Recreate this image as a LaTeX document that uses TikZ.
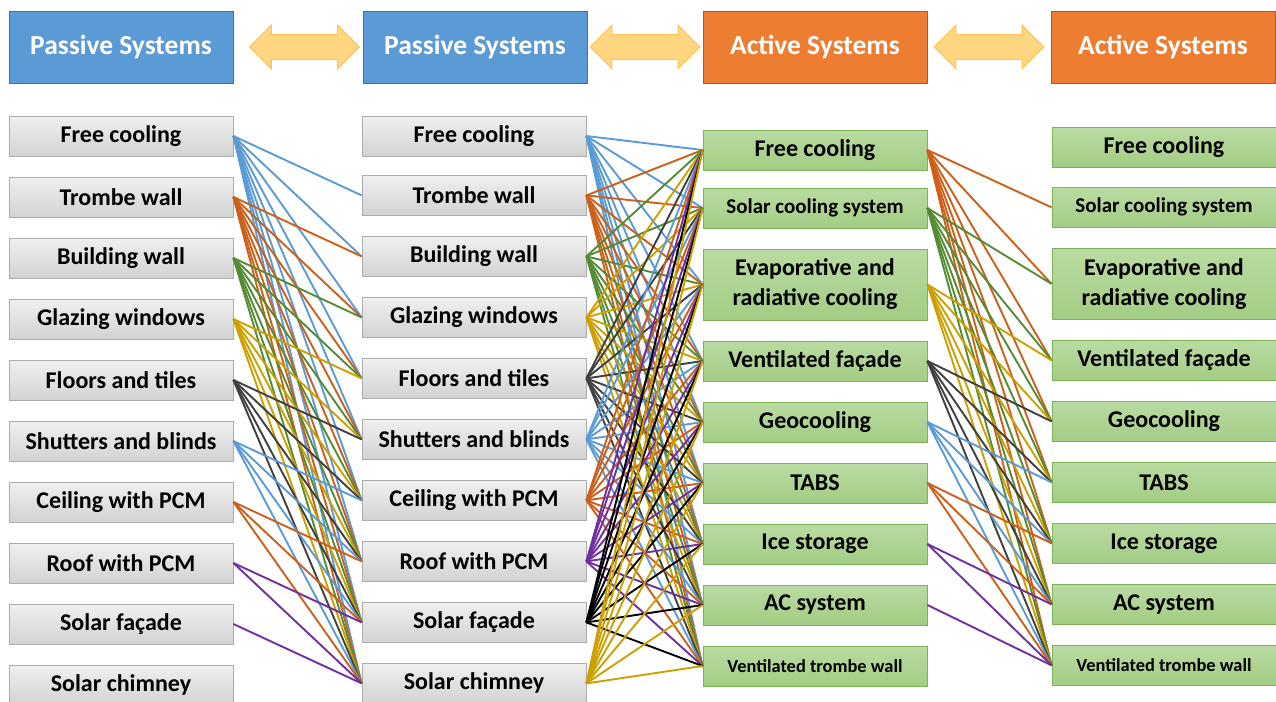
\documentclass[tikz,border=0pt]{standalone}
\usepackage{fontspec}
\setmainfont{Carlito}
\usetikzlibrary{positioning, shapes.arrows, calc}

\definecolor{hblue}{RGB}{91,155,213}
\definecolor{hblueline}{RGB}{65,113,156}
\definecolor{horange}{RGB}{237,125,49}
\definecolor{horangeline}{RGB}{174,90,33}
\definecolor{arrfill}{RGB}{255,214,128}
\definecolor{arrline}{RGB}{250,196,82}
\definecolor{gtop}{RGB}{186,219,162}
\definecolor{gbot}{RGB}{162,205,132}
\definecolor{gline}{RGB}{122,180,88}
\definecolor{wblue}{RGB}{91,155,213}
\definecolor{worange}{RGB}{204,96,26}
\definecolor{wgreen}{RGB}{84,140,52}
\definecolor{wgold}{RGB}{204,160,0}
\definecolor{wgray}{RGB}{64,64,64}
\definecolor{wpurple}{RGB}{112,48,160}

\begin{document}
\begin{tikzpicture}[x=0.5pt, y=-0.5pt,
        P/.style = {draw=gray!65, top color=gray!12, bottom color=gray!35, minimum width=112pt, minimum height=20pt, inner sep=0pt, font=\bfseries\fontsize{12}{15}\selectfont},
        G/.style = {draw=gline, top color=gtop, bottom color=gbot, minimum width=112pt, minimum height=20pt, inner sep=0pt, align=center, font=\bfseries\fontsize{12}{15}\selectfont},
        Gs/.style = {G, font=\bfseries\fontsize{10.5}{12}\selectfont},
        Gxs/.style = {G, font=\bfseries\fontsize{9.2}{11}\selectfont},
        H/.style = {minimum width=112pt, minimum height=36pt, inner sep=0pt, text=white, font=\bfseries\fontsize{13.75}{16}\selectfont},
        twoway/.style = {double arrow, draw=arrline, fill=arrfill, minimum height=55pt, inner xsep=0pt, inner ysep=6pt, double arrow head extend=4.75pt},
        wire/.style = {line width=0.95pt}
    ]
        \useasboundingbox (0,0) rectangle (1276,702);

        % headers
        \node[H, fill=hblue, draw=hblueline] (hp1) at (121,47) {Passive Systems};
        \node[H, fill=hblue, draw=hblueline] (hp2) at (475,47) {Passive Systems};
        \node[H, fill=horange, draw=horangeline] (ha1) at (815,47) {Active Systems};
        \node[H, fill=horange, draw=horangeline] (ha2) at (1163,47) {Active Systems};

        \node[twoway] (ar1) at ($(hp1.east)!0.55!(hp2.west)$) {};
        \node[twoway] (ar2) at ($(hp2.east)!0.5!(ha1.west)$) {};
        \node[twoway] (ar3) at ($(ha1.east)!0.5!(ha2.west)$) {};

        % passive, left
        \node[P] (p1) at (121,136) {Free cooling};
        \node[P, below=10.1pt of p1] (p2) {Trombe wall};
        \node[P, below=10.1pt of p2] (p3) {Building wall};
        \node[P, below=10.1pt of p3] (p4) {Glazing windows};
        \node[P, below=10.1pt of p4] (p5) {Floors and tiles};
        \node[P, below=10.1pt of p5] (p6) {Shutters and blinds};
        \node[P, below=10.1pt of p6] (p7) {Ceiling with PCM};
        \node[P, below=10.1pt of p7] (p8) {Roof with PCM};
        \node[P, below=10.1pt of p8] (p9) {Solar façade};
        \node[P, below=10.1pt of p9] (p10) {Solar chimney};

        % passive, right
        \node[P] (q1) at (474,136) {Free cooling};
        \node[P, below=9.3pt of q1] (q2) {Trombe wall};
        \node[P, below=10.1pt of q2] (q3) {Building wall};
        \node[P, below=10.1pt of q3] (q4) {Glazing windows};
        \node[P, below=10.1pt of q4] (q5) {Floors and tiles};
        \node[P, below=10.1pt of q5] (q6) {Shutters and blinds};
        \node[P, below=10.1pt of q6] (q7) {Ceiling with PCM};
        \node[P, below=10.1pt of q7] (q8) {Roof with PCM};
        \node[P, below=10.1pt of q8] (q9) {Solar façade};
        \node[P, below=10.1pt of q9] (q10) {Solar chimney};

        % active, left
        \node[G] (r1) at (815,150) {Free cooling};
        \node[Gs, below=8.6pt of r1] (r2) {Solar cooling system};
        \node[G, minimum height=35.5pt, below=10.1pt of r2] (r3) {Evaporative and\\radiative cooling};
        \node[G, below=10.1pt of r3] (r4) {Ventilated façade};
        \node[G, below=10.1pt of r4] (r5) {Geocooling};
        \node[G, below=10.1pt of r5] (r6) {TABS};
        \node[G, below=10.1pt of r6] (r7) {Ice storage};
        \node[G, below=10.1pt of r7] (r8) {AC system};
        \node[Gxs, below=10.1pt of r8] (r9) {Ventilated trombe wall};

        % active, right
        \node[G] (s1) at (1164,147) {Free cooling};
        \node[Gs, below=9.8pt of s1] (s2) {Solar cooling system};
        \node[G, minimum height=35.5pt, below=10.1pt of s2] (s3) {Evaporative and\\radiative cooling};
        \node[G, below=10.1pt of s3] (s4) {Ventilated façade};
        \node[G, below=10.1pt of s4] (s5) {Geocooling};
        \node[G, below=10.1pt of s5] (s6) {TABS};
        \node[G, below=10.1pt of s6] (s7) {Ice storage};
        \node[G, below=10.1pt of s7] (s8) {AC system};
        \node[Gxs, below=10.1pt of s8] (s9) {Ventilated trombe wall};

        % links
        \foreach \i/\c in {1/wblue, 2/worange, 3/wgreen, 4/wgold, 5/wgray, 6/wblue, 7/worange, 8/wpurple, 9/wpurple}
            \foreach \j in {\i,...,10} {\ifnum\j>\i \draw[wire, \c] (p\i.east) -- (q\j.west);\fi}

        \foreach \i/\c in {1/wblue, 2/worange, 3/wgreen, 4/wgold, 5/wgray, 6/wblue, 7/worange, 8/wpurple, 9/black, 10/wgold}
            \foreach \j in {1,...,9} \draw[wire, \c] (q\i.east) -- (r\j.west);

        \foreach \i/\c in {1/worange, 2/wgreen, 3/wgold, 4/wgray, 5/wblue, 6/worange, 7/wpurple, 8/wpurple}
            \foreach \j in {\i,...,9} {\ifnum\j>\i \draw[wire, \c] (r\i.east) -- (s\j.west);\fi}

    \end{tikzpicture}
\end{document}
